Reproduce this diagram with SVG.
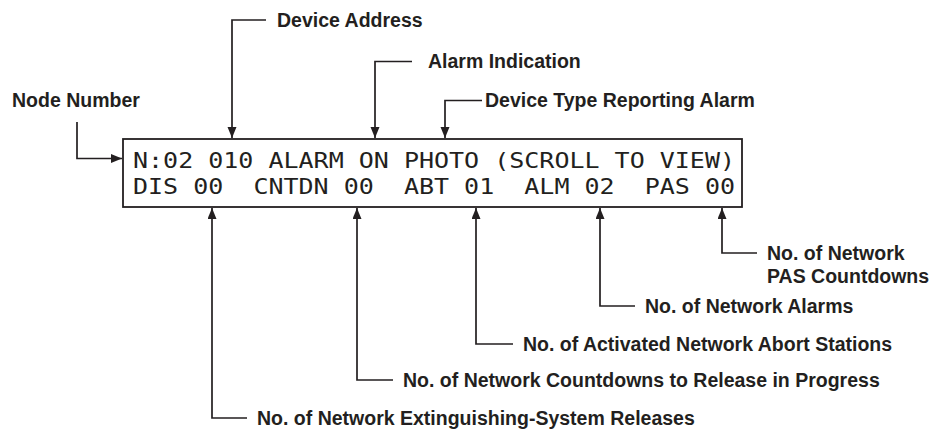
<svg xmlns="http://www.w3.org/2000/svg" width="934" height="430" viewBox="0 0 934 430">
<style>
.lbl{font-family:"Liberation Sans",Arial,sans-serif;font-weight:bold;font-size:19.5px;fill:#231f20}
.mono{font-family:"DejaVu Sans Mono","Liberation Mono",monospace;font-size:22px;fill:#231f20}
.con{fill:none;stroke:#231f20;stroke-width:1.7}
.box{fill:#fff;stroke:#231f20;stroke-width:1.8}
</style>
<defs>
<marker id="ah" markerUnits="userSpaceOnUse" markerWidth="12" markerHeight="10" refX="11" refY="4.5" orient="auto">
<path d="M0,0 L11,4.5 L0,9 z" fill="#231f20"/>
</marker>
</defs>
<rect width="934" height="430" fill="#fff"/>
<g id="display">
<rect class="box" x="123" y="139" width="619" height="68"/>
<text class="mono" x="133" y="167.5" textLength="602" lengthAdjust="spacingAndGlyphs" xml:space="preserve">N:02 010 ALARM ON PHOTO (SCROLL TO VIEW)</text>
<text class="mono" x="133" y="193.5" textLength="602" lengthAdjust="spacingAndGlyphs" xml:space="preserve">DIS 00  CNTDN 00  ABT 01  ALM 02  PAS 00</text>
</g>
<g id="connectors">
<path class="con" marker-end="url(#ah)" d="M77,122 V158.5 H122"/>
<path class="con" marker-end="url(#ah)" d="M266,20 H232 V138"/>
<path class="con" marker-end="url(#ah)" d="M412,61.5 H375 V138"/>
<path class="con" marker-end="url(#ah)" d="M482,100.5 H445 V138"/>
<path class="con" marker-end="url(#ah)" d="M247,418 H212 V208"/>
<path class="con" marker-end="url(#ah)" d="M393,380 H357 V208"/>
<path class="con" marker-end="url(#ah)" d="M513,344 H476 V208"/>
<path class="con" marker-end="url(#ah)" d="M635,306 H600 V208"/>
<path class="con" marker-end="url(#ah)" d="M757,253 H722 V208"/>
</g>
<g id="node-number"><text class="lbl" x="12" y="107">Node Number</text></g>
<g id="device-address"><text class="lbl" x="277" y="26.5">Device Address</text></g>
<g id="alarm-indication"><text class="lbl" x="428" y="68">Alarm Indication</text></g>
<g id="device-type"><text class="lbl" x="485" y="107">Device Type Reporting Alarm</text></g>
<g id="pas-countdowns"><text class="lbl" x="767" y="260">No. of Network</text><text class="lbl" x="767" y="283">PAS Countdowns</text></g>
<g id="network-alarms"><text class="lbl" x="645" y="312.5">No. of Network Alarms</text></g>
<g id="abort-stations"><text class="lbl" x="523" y="350.5">No. of Activated Network Abort Stations</text></g>
<g id="countdowns"><text class="lbl" x="403" y="386.5">No. of Network Countdowns to Release in Progress</text></g>
<g id="releases"><text class="lbl" x="257" y="424.5">No. of Network Extinguishing-System Releases</text></g>
</svg>
